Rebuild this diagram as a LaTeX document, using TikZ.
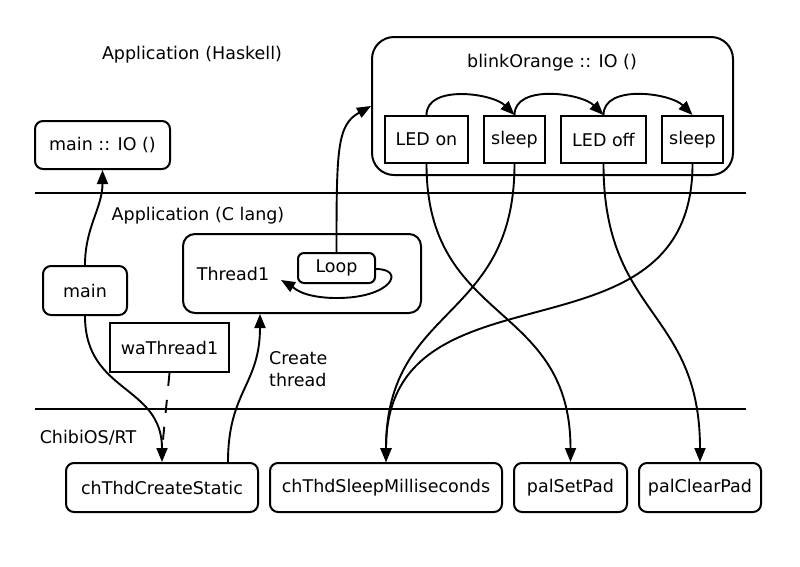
\documentclass[tikz,border=0pt]{standalone}
\usepackage{fontspec}
\setmainfont{DejaVu Sans}
\usetikzlibrary{arrows.meta, positioning}

\begin{document}
\begin{tikzpicture}[
    x=1pt, y=1pt,
    font=\fontsize{17.5}{22}\selectfont,
    box/.style={rectangle, rounded corners=8pt, minimum height=49pt, inner sep=2pt, text centered, draw=black, line width=2pt},
    plainbox/.style={rectangle, minimum height=47pt, inner sep=2pt, text centered, draw=black, line width=2pt},
    layer/.style={line width=1.7pt},
    arrow/.style={line width=1.9pt, -{Triangle[length=14pt,width=11pt]}},
    link/.style={line width=1.9pt}
]
    \useasboundingbox (0,0) rectangle (800,-566);

    \node (hsktitle) at (192,-55) {Application (Haskell)};
    \node (mainio) [box, minimum width=135pt, minimum height=48pt] at (102.5,-145) {main :: IO ()};
    \node (blink) [box, rounded corners=22pt, minimum width=361pt, minimum height=138pt] at (552.5,-106) {};
    \node (blinktitle) at (552,-63) {blinkOrange :: IO ()};
    \node (ledon) [plainbox, minimum width=83pt] at (426.5,-139.5) {LED on};
    \node (sleepa) [plainbox, minimum width=61pt, right=14pt of ledon] {sleep};
    \node (ledoff) [plainbox, minimum width=85pt, right=14pt of sleepa] {LED off};
    \node (sleepb) [plainbox, minimum width=61pt, right=14pt of ledoff] {sleep};

    \draw [layer] (35,-193) -- (746,-193);

    \node (ctitle) at (198,-216) {Application (C lang)};
    \node (cmain) [box, minimum width=84pt] at (85,-290.5) {main};
    \node (thread) [box, rounded corners=12pt, minimum width=238pt, minimum height=79pt] at (302,-273.5) {};
    \node (threadlbl) at (233,-274) {Thread1};
    \node (loop) [box, rounded corners=6pt, minimum width=77pt, minimum height=30pt] at (336.5,-268) {Loop};
    \node (wa) [plainbox, minimum width=119pt, minimum height=49pt] at (169.5,-347.5) {waThread1};
    \node (createlbl) [align=left, anchor=west, inner sep=0pt] at (269,-369) {Create\\thread};

    \draw [layer] (35,-409) -- (746,-409);

    \node (chibi) at (88,-438) {ChibiOS/RT};
    \node (create) [box, minimum width=192pt] at (162,-487.5) {chThdCreateStatic};
    \node (sleepms) [box, minimum width=232pt, right=10pt of create] {chThdSleepMilliseconds};
    \node (setpad) [box, minimum width=113pt, right=10pt of sleepms] {palSetPad};
    \node (clearpad) [box, minimum width=122pt, right=10pt of setpad] {palClearPad};

    % Haskell side
    \draw [arrow] (ledon.north) to[out=90, in=135, looseness=0.9] (sleepa.north);
    \draw [arrow] (sleepa.north) to[out=90, in=135, looseness=0.9] (ledoff.north);
    \draw [arrow] (ledoff.north) to[out=90, in=135, looseness=0.9] (sleepb.north);

    % C side
    \draw [arrow] (cmain.north) to[out=90, in=-90] (mainio.south);
    \draw [arrow] (cmain.south) to[out=-90, in=90, looseness=1.2] (create.north);
    \draw [link, dash pattern=on 13pt off 14pt] (wa.south) -- ([yshift=12]create.north);
    \draw [arrow] ([xshift=66]create.north) to[out=90, in=-90, looseness=1.2] ([xshift=-42]thread.south);
    \draw [arrow] (loop.north) .. controls +(0,103) and +(-34,-19) .. (blink.west);
    \coordinate (loopbot) at (337,-298);
    \coordinate (looptip) at (281,-280);
    \draw [link] ([yshift=-1]loop.east) .. controls +(30,0) and +(55,0) .. (loopbot);
    \draw [arrow] (loopbot) .. controls +(-35,0) and +(12,-7) .. (looptip);

    % calls into ChibiOS/RT
    \draw [arrow] (ledon.south) to[out=-90, in=90, looseness=1.25] (setpad.north);
    \draw [arrow] (sleepa.south) to[out=-90, in=90, looseness=1.25] (sleepms.north);
    \draw [arrow] (ledoff.south) to[out=-90, in=90, looseness=1.25] (clearpad.north);
    \draw [arrow] (sleepb.south) to[out=-90, in=90, looseness=1.25] (sleepms.north);
\end{tikzpicture}
\end{document}
